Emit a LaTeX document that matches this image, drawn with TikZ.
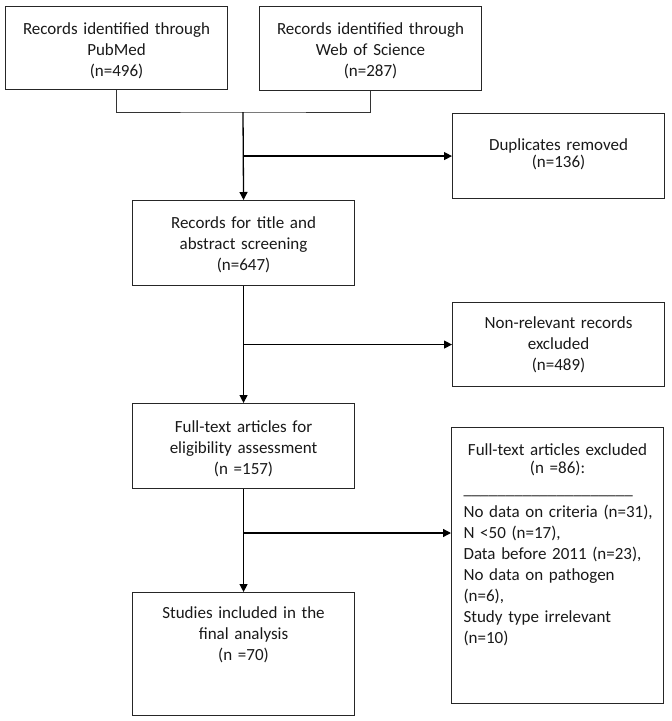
\documentclass[tikz,border=0pt]{standalone}
\usepackage{fontspec}
\setmainfont{Carlito}
\usetikzlibrary{arrows.meta}

\begin{document}
\begin{tikzpicture}[x=1pt,y=-1pt,
    box/.style={draw=black!85, line width=1.1pt, anchor=north west, inner sep=0pt,
        align=center, text=black!90, font=\fontsize{17pt}{21pt}\selectfont},
    link/.style={draw=black, line width=1.3pt},
    arr/.style={link, -{Triangle[length=8pt,width=8pt]}}]
\useasboundingbox (0,0) rectangle (672,721);

% identification
\node[box, text width=222pt, text height=28pt, text depth=55pt] (pub) at (5,6)
    {Records identified through\\PubMed\\(n=496)};
\node[box, text width=222pt, text height=28pt, text depth=56pt] (wos) at (259,6)
    {Records identified through\\Web of Science\\(n=287)};
\node[box, text width=212pt, text height=37pt, text depth=48pt] (dup) at (452,113)
    {Duplicates removed\\[-4pt](n=136)};

% screening
\node[box, text width=222pt, text height=28pt, text depth=57pt] (rec) at (132,200)
    {Records for title and\\abstract screening\\(n=647)};
\node[box, text width=212pt, text height=26pt, text depth=58pt] (nonrel) at (452,302)
    {Non-relevant records\\excluded\\(n=489)};

% eligibility
\node[box, text width=202pt, inner xsep=5pt, text height=28pt, text depth=248pt] (excl) at (451,427)
    {Full-text articles excluded\\[-3pt](n =86):\\
     \parbox[t]{202pt}{\raggedright\hspace*{7pt}%
     \_\_\_\_\_\_\_\_\_\_\_\_\_\_\_\_\_\_\_\_\\[2pt]
     \hspace*{7pt}No data on criteria (n=31),\\
     \hspace*{7pt}N <50 (n=17),\\
     \hspace*{7pt}Data before 2011 (n=23),\\
     \hspace*{7pt}No data on pathogen\\
     \hspace*{7pt}(n=6),\\
     \hspace*{7pt}Study type irrelevant\\
     \hspace*{7pt}(n=10)}};
\node[box, text width=222pt, text height=29pt, text depth=56pt] (full) at (132,403)
    {Full-text articles for\\eligibility assessment\\(n =157)};

% included
\node[box, text width=222pt, text height=26pt, text depth=97pt] (study) at (132,592)
    {Studies included in the\\final analysis\\(n =70)};

\coordinate (join) at (243,112);
\coordinate (cut) at (243,533);
\draw[link, line width=0.8pt, draw=black!80] (pub.south) |- (join) -| (wos.south);
\draw[arr] (join) -- (rec.north);
\draw[arr] (rec.north |- dup.west) -- (dup.west);
\draw[arr] (rec.south) -- (full.north);
\draw[arr] (rec.south |- nonrel.west) -- (nonrel.west);
\draw[arr] (full.south) -- (study.north);
\draw[arr] (cut) -- (cut -| excl.west);
\end{tikzpicture}
\end{document}
